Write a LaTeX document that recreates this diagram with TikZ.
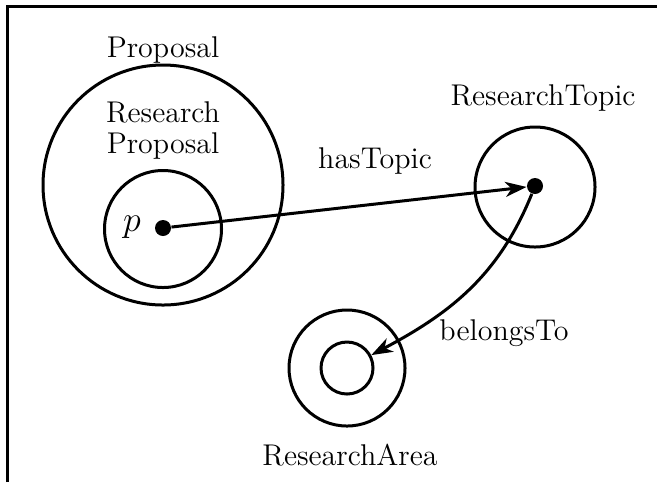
\documentclass[tikz,border=0pt]{standalone}
\usetikzlibrary{arrows.meta}
\begin{document}
\begin{tikzpicture}[x=0.4pt,y=-0.4pt,
  ring/.style={draw,circle,line width=1.2pt,inner sep=0pt},
  dotnode/.style={circle,fill=black,inner sep=0pt,minimum size=6.4pt},
  conn/.style={line width=1.2pt,-{Stealth[length=8.5pt,width=6pt,inset=2.5pt]}},
  lbl/.style={inner sep=0pt,anchor=base,font=\fontsize{12}{14}\selectfont}]
\useasboundingbox (0,0) rectangle (657,482);
% partial frame: top and left edges
\draw[line width=1.2pt] (7,482) -- (7,6) -- (657,6);

% Proposal and its subclass
\node[ring,minimum size=240*0.4pt] (prop) at (163,185) {};
\node[ring,minimum size=117*0.4pt] (rprop) at (163,229) {};
\node[dotnode] (p) at (163,228) {};
\node[lbl,anchor=center,font=\fontsize{15}{17}\selectfont] (plbl) at (132,227) {$p$};
\node[lbl] (proplbl) at (163,57) {Proposal};
\node[lbl] (rproplbla) at (163,122) {Research};
\node[lbl] (rproplblb) at (163,153) {Proposal};

% ResearchTopic
\node[ring,minimum size=120*0.4pt] (topic) at (535,187) {};
\node[dotnode] (t) at (535,186) {};
\node[lbl] (topiclbl) at (543,105) {ResearchTopic};

% ResearchArea
\node[ring,minimum size=116*0.4pt] (area) at (347,368) {};
\node[ring,minimum size=52*0.4pt] (areain) at (347,368) {};
\node[lbl] (arealbl) at (350,465) {ResearchArea};

% properties
\draw[conn] (p) -- (t);
\node[lbl] (has) at (375,168) {hasTopic};
\draw[conn] (t) to[out=-112,in=28] (areain);
\node[lbl] (bel) at (504,340) {belongsTo};
\end{tikzpicture}
\end{document}
